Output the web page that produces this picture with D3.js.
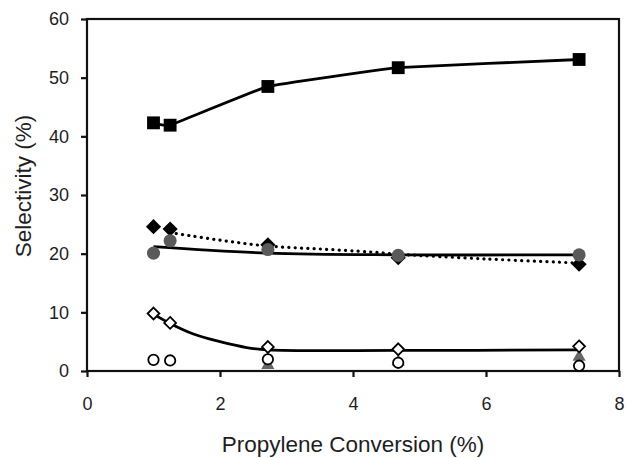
<!DOCTYPE html>
<html>
<head>
<meta charset="utf-8">
<script src="https://cdn.jsdelivr.net/npm/d3@7"></script>
<style>
  html, body { margin: 0; padding: 0; background: #fff; }
  svg { display: block; }
  text { font-family: "Liberation Sans", Arial, sans-serif; fill: #1e1e1e; }
</style>
</head>
<body>
<svg id="chart" width="626" height="458"></svg>
<script>
// ---- data ----
const conversion = [1.0, 1.25, 2.72, 4.68, 7.4];

const filledSquares  = [42.3, 41.9, 48.5, 51.7, 53.1];
const filledDiamonds = [24.6, 24.2, 21.5, 19.3, 18.2];
const grayCircles    = [20.1, 22.2, 20.7, 19.7, 19.8];
const openDiamonds   = [9.8, 8.2, 4.1, 3.7, 4.2];
const openCircles    = [1.9, 1.8, 2.0, 1.4, 0.9];
const triangleX      = [2.72, 4.68, 7.4];
const grayTriangles  = [1.0, 1.6, 2.4];

// trend lines
const dottedFitX = [1.25, 2.0, 2.72, 3.5, 4.25, 4.7, 6.0, 7.4];
const dottedFitY = [23.6, 22.3, 21.3, 20.8, 20.3, 19.9, 19.1, 18.4];
const grayFitX   = [1.0, 2.72, 4.68, 7.4];
const grayFitY   = [21.2, 20.1, 19.8, 19.8];
const openDiaFitX = [1.0, 1.25, 1.6, 2.0, 2.4, 2.72, 4.68, 7.4];
const openDiaFitY = [9.7, 8.1, 6.3, 5.0, 4.0, 3.6, 3.5, 3.6];

const xTicks = [0, 2, 4, 6, 8];
const yTicks = [0, 10, 20, 30, 40, 50, 60];
const xTitle = "Propylene Conversion (%)";
const yTitle = "Selectivity (%)";

// ---- layout ----
const L = 87, R = 619, T = 19, B = 371;
const svg = d3.select("#chart");
const x = d3.scaleLinear().domain([0, 8]).range([L, R]);
const y = d3.scaleLinear().domain([0, 60]).range([B, T]);

// frame
svg.append("rect").attr("x", L).attr("y", T).attr("width", R - L).attr("height", B - T)
  .attr("fill", "none").attr("stroke", "#111").attr("stroke-width", 2.2);

// axes
const xAxis = svg.append("g").attr("transform", `translate(0,${B})`)
  .call(d3.axisBottom(x).tickValues(xTicks).tickSize(6).tickPadding(20).tickFormat(d3.format("d")));
const yAxis = svg.append("g").attr("transform", `translate(${L},0)`)
  .call(d3.axisLeft(y).tickValues(yTicks).tickSize(6).tickPadding(12).tickFormat(d3.format("d")));
[xAxis, yAxis].forEach(g => {
  g.select(".domain").remove();
  g.selectAll(".tick line").attr("stroke", "#111").attr("stroke-width", 2.2);
  g.selectAll(".tick text").attr("font-size", 18).attr("fill", "#1e1e1e")
    .attr("font-family", "Liberation Sans, Arial, sans-serif");
});

// titles
svg.append("text").attr("x", (L + R) / 2).attr("y", 452).attr("text-anchor", "middle")
  .attr("font-size", 22.5).text(xTitle);
svg.append("text").attr("transform", `translate(31,186) rotate(-90)`).attr("text-anchor", "middle")
  .attr("font-size", 22.5).text(yTitle);

const plot = svg.append("g");

function pts(xs, ys) { return xs.map((v, i) => [v, ys[i]]); }
const smooth = d3.line().x(d => x(d[0])).y(d => y(d[1])).curve(d3.curveCatmullRom.alpha(0.5));
const gentle = d3.line().x(d => x(d[0])).y(d => y(d[1])).curve(d3.curveCardinal.tension(0.8));

// lines
plot.append("path").attr("d", gentle(pts(conversion, filledSquares)))
  .attr("fill", "none").attr("stroke", "#000").attr("stroke-width", 2.8);
plot.append("path").attr("d", smooth(pts(dottedFitX, dottedFitY)))
  .attr("fill", "none").attr("stroke", "#000").attr("stroke-width", 3.2)
  .attr("stroke-dasharray", "0.1 6.2").attr("stroke-linecap", "round");
plot.append("path").attr("d", smooth(pts(grayFitX, grayFitY)))
  .attr("fill", "none").attr("stroke", "#000").attr("stroke-width", 2.8);
plot.append("path").attr("d", smooth(pts(openDiaFitX, openDiaFitY)))
  .attr("fill", "none").attr("stroke", "#000").attr("stroke-width", 2.8);

const squareDiamond = {
  draw(ctx, size) {
    const r = Math.sqrt(size / 2);
    ctx.moveTo(0, -r); ctx.lineTo(r, 0); ctx.lineTo(0, r); ctx.lineTo(-r, 0); ctx.closePath();
  }
};
const sym = (type, size) => d3.symbol().type(type).size(size)();

function markers(xs, ys, type, size, fill, stroke, sw) {
  plot.append("g").selectAll("path").data(pts(xs, ys)).join("path")
    .attr("transform", d => `translate(${x(d[0])},${y(d[1])})`)
    .attr("d", sym(type, size))
    .attr("fill", fill).attr("stroke", stroke).attr("stroke-width", sw);
}

markers(conversion, filledSquares, d3.symbolSquare, 165, "#000", "none", 0);
markers(conversion, filledDiamonds, squareDiamond, 115, "#000", "none", 0);
markers(conversion, grayCircles, d3.symbolCircle, 135, "#5a5a5a", "none", 0);
markers(triangleX, grayTriangles, d3.symbolTriangle, 75, "#666", "none", 0);
markers(conversion, openDiamonds, squareDiamond, 70, "#fff", "#000", 1.8);
markers(conversion, openCircles, d3.symbolCircle, 85, "#fff", "#000", 1.8);
</script>
</body>
</html>
